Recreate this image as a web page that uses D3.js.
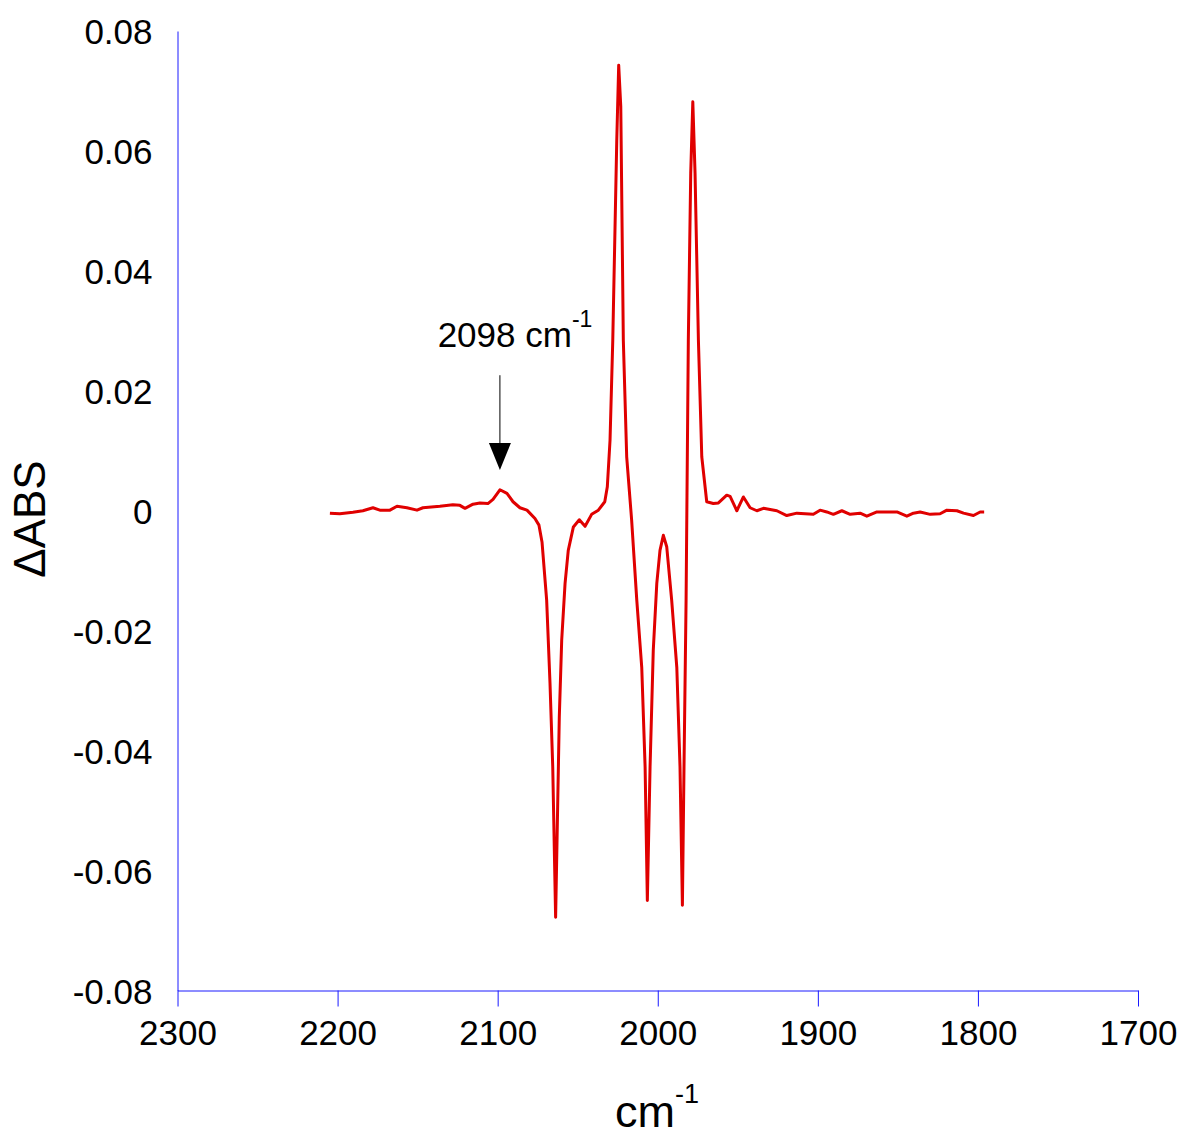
<!DOCTYPE html>
<html>
<head>
<meta charset="utf-8">
<script src="https://cdn.jsdelivr.net/npm/d3@7"></script>
<style>
  body { margin: 0; background: #fff; }
  text { font-family: "Liberation Sans", Arial, sans-serif; fill: #000; }
</style>
</head>
<body>
<div id="chart"></div>
<script>
var width = 1185;
var height = 1137;

// spectrum: wavenumber (cm-1) and delta absorbance
var wavenumber = [2204.8, 2198.6, 2190.4, 2184.2, 2177.9, 2173.6, 2167.3, 2162.9, 2156.7, 2150.4,
  2146.7, 2136.1, 2128.0, 2123.6, 2120.4, 2115.4, 2111.1, 2106.1, 2102.9, 2098.6,
  2094.2, 2090.4, 2086.1, 2081.7, 2076.7, 2074.2, 2072.3, 2069.4, 2067.3, 2065.6,
  2063.8, 2061.5, 2060.0, 2057.9, 2055.9, 2052.7, 2049.0, 2045.4, 2041.3, 2037.1,
  2033.1, 2031.5, 2029.8, 2028.1, 2025.6, 2024.4, 2023.1, 2021.5, 2019.4, 2016.3,
  2013.1, 2010.0, 2007.9, 2006.5, 2004.8, 2002.8, 2000.6, 1998.6, 1996.5, 1994.4,
  1991.3, 1988.1, 1986.1, 1984.6, 1983.6, 1982.3, 1980.9, 1979.4, 1978.1, 1976.7,
  1974.6, 1972.5, 1969.4, 1965.3, 1962.1, 1956.9, 1954.8, 1950.6, 1946.5, 1942.3,
  1938.1, 1934.0, 1925.6, 1919.4, 1913.1, 1902.8, 1898.6, 1894.4, 1890.3, 1885.0,
  1879.8, 1873.6, 1869.4, 1863.1, 1850.6, 1844.4, 1840.3, 1836.1, 1829.8, 1823.6,
  1819.4, 1813.1, 1809.0, 1802.8, 1798.6, 1796.1];
var dAbs = [-0.0004, -0.0005, -0.00025, 0.0, 0.0005, 0.0001, 0.0001, 0.00075, 0.0005, 0.0001,
  0.0005, 0.00075, 0.001, 0.0009, 0.0004, 0.0011, 0.0013, 0.0012, 0.0019, 0.0035,
  0.0029, 0.0015, 0.0005, 0.0001, -0.0013, -0.0024, -0.0052, -0.0149, -0.0288, -0.0427,
  -0.0678, -0.0344, -0.0216, -0.0121, -0.0066, -0.0027, -0.0015, -0.0026, -0.0006, 0.0001,
  0.0015, 0.004, 0.0118, 0.0284, 0.0618, 0.0743, 0.0674, 0.0284, 0.009, -0.0016,
  -0.0149, -0.0261, -0.0427, -0.065, -0.0427, -0.0233, -0.0121, -0.0066, -0.0041, -0.006,
  -0.0149, -0.0261, -0.0427, -0.0658, -0.0427, -0.0149, 0.0284, 0.0563, 0.0682, 0.0563,
  0.0284, 0.009, 0.0015, 0.0012, 0.0013, 0.0026, 0.0024, 0.0, 0.0023, 0.0005,
  0.0, 0.0004, 0.0, -0.0008, -0.0004, -0.0006, 0.0001, -0.0002, -0.0006, 0.0,
  -0.0006, -0.0004, -0.0009, -0.0002, -0.0002, -0.0009, -0.0004, -0.0002, -0.0006, -0.0005,
  0.0001, 0.0, -0.0004, -0.0008, -0.0002, -0.0002];

var xTicks = [2300, 2200, 2100, 2000, 1900, 1800, 1700];
var yTicks = [-0.08, -0.06, -0.04, -0.02, 0, 0.02, 0.04, 0.06, 0.08];

// annotation: label and arrow pointing at the small band
var markLabel = "2098 cm";
var markWave = 2098.6;
var markFrom = 0.0226;
var markTo = 0.0068;

var data = wavenumber.map((w, i) => ({w: w, v: dAbs[i]}));

var svg = d3.select("#chart").append("svg")
  .attr("width", width)
  .attr("height", height);

var x = d3.scaleLinear().domain([2300, 1700]).range([177.5, 1138]);
var y = d3.scaleLinear().domain([-0.08, 0.08]).range([990.5, 31]);

var axisColor = "#1a1aff";

// y axis (no tick marks, just labels)
var yAxis = d3.axisLeft(y)
  .tickValues(yTicks)
  .tickSize(0)
  .tickPadding(25)
  .tickFormat(d => Math.abs(d) < 1e-9 ? "0" : d.toFixed(2));

var gy = svg.append("g")
  .attr("transform", `translate(${x(2300)},0)`)
  .call(yAxis);
gy.select(".domain").attr("stroke", axisColor).attr("stroke-width", 1);
gy.selectAll(".tick text")
  .style("font-size", "35px")
  .attr("dy", "0.36em");

// x axis
var xAxis = d3.axisBottom(x)
  .tickValues(xTicks)
  .tickSizeInner(16)
  .tickSizeOuter(0)
  .tickPadding(14)
  .tickFormat(d3.format("d"));

var gx = svg.append("g")
  .attr("transform", `translate(0,${y(-0.08)})`)
  .call(xAxis);
gx.select(".domain").attr("stroke", axisColor).attr("stroke-width", 1);
gx.selectAll(".tick line").attr("stroke", axisColor).attr("stroke-width", 1);
gx.selectAll(".tick text")
  .style("font-size", "35px");

// spectrum
var line = d3.line()
  .x(d => x(d.w))
  .y(d => y(d.v));

svg.append("path")
  .datum(data)
  .attr("fill", "none")
  .attr("stroke", "#e00000")
  .attr("stroke-width", 3)
  .attr("stroke-linejoin", "round")
  .attr("d", line);

// arrow
var ax = x(markWave);
var headLen = 27;
svg.append("line")
  .attr("x1", ax).attr("x2", ax)
  .attr("y1", y(markFrom)).attr("y2", y(markTo) - headLen + 2)
  .attr("stroke", "#000")
  .attr("stroke-width", 1);
svg.append("path")
  .attr("d", `M${ax - 11},${y(markTo) - headLen} L${ax + 11},${y(markTo) - headLen} L${ax},${y(markTo)} Z`)
  .attr("fill", "#000");

var ann = svg.append("text")
  .attr("x", x(2137.5))
  .attr("y", y(0.0273))
  .style("font-size", "35px");
ann.append("tspan").text(markLabel);
ann.append("tspan").attr("dy", -20).style("font-size", "23px").text("-1");

// axis titles
svg.append("text")
  .attr("transform", `translate(45,519) rotate(-90)`)
  .attr("text-anchor", "middle")
  .style("font-size", "44px")
  .text("\u0394ABS");

var xt = svg.append("text")
  .attr("x", 615)
  .attr("y", 1127)
  .style("font-size", "45px");
xt.append("tspan").text("cm");
xt.append("tspan").attr("dy", -24).style("font-size", "27px").text("-1");
</script>
</body>
</html>
